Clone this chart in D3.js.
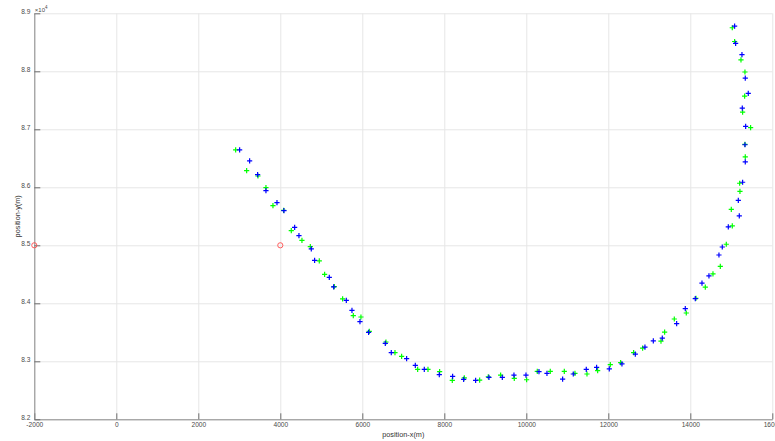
<!DOCTYPE html>
<html>
<head>
<meta charset="utf-8">
<script src="https://cdn.jsdelivr.net/npm/d3@7"></script>
<style>
  body { margin: 0; background: #fff; }
  text { font-family: "Liberation Sans", Arial, sans-serif; }
</style>
</head>
<body>
<svg width="775" height="441"></svg>
<script>
// trajectory points (x in m, y in m)
var blueX = [3008, 3252, 3447, 3650, 3919, 4089, 4350, 4455, 4756, 4837, 5195, 5301, 5610, 5748, 5943, 6154,
    6561, 6707, 7081, 7293, 7512, 7878, 8203, 8472, 8764, 9089, 9415, 9699, 9992, 10309, 10504, 10886, 11146,
    11463, 11715, 12024, 12333, 12659, 12894, 13098, 13317, 13667, 13878, 14122, 14285, 14455, 14699, 14780,
    14927, 15195, 15171, 15276, 15341, 15333, 15350, 15268, 15414, 15341, 15260, 15106, 15081];
var blueY = [86644, 86454, 86218, 85943, 85736, 85598, 85310, 85167, 84937, 84741, 84448, 84282, 84052, 83879,
    83684, 83500, 83310, 83150, 83046, 82931, 82862, 82770, 82741, 82690, 82671, 82723, 82723, 82763, 82763,
    82821, 82792, 82694, 82781, 82862, 82896, 82868, 82954, 83122, 83243, 83353, 83399, 83648, 83908, 84081,
    84347, 84474, 84833, 84971, 85318, 85509, 85775, 86087, 86439, 86734, 87052, 87364, 87619, 87884, 88289,
    88480, 88780];

var greenX = [2911, 3179, 3455, 3650, 3821, 4081, 4268, 4528, 4732, 4951, 5081, 5317, 5520, 5780, 5967, 6171,
    6577, 6797, 6959, 7350, 7602, 7886, 8195, 8488, 8862, 9073, 9374, 9707, 10008, 10268, 10585, 10927, 11187,
    11480, 11740, 12049, 12301, 12618, 12837, 13285, 13374, 13610, 13902, 14138, 14366, 14553, 14732, 14878,
    15024, 15000, 15211, 15203, 15341, 15333, 15471, 15276, 15325, 15333, 15236, 15081, 15024];
var greenY = [86644, 86287, 86195, 85994, 85684, 85603, 85253, 85086, 84977, 84730, 84500, 84287, 84075, 83787,
    83764, 83517, 83333, 83150, 83086, 82862, 82862, 82822, 82672, 82713, 82677, 82734, 82763, 82706, 82682,
    82827, 82827, 82827, 82792, 82781, 82838, 82943, 82977, 83151, 83226, 83347, 83503, 83729, 83833, 84087,
    84278, 84509, 84636, 85018, 85335, 85619, 85931, 86070, 86526, 86740, 87029, 87295, 87572, 87988, 88197,
    88514, 88751];

// the two red circles
var redX = [4000, -2000];
var redY = [85000, 85000];

var xTicks = [-2000, 0, 2000, 4000, 6000, 8000, 10000, 12000, 14000, 16000];
var yTicks = [82000, 83000, 84000, 85000, 86000, 87000, 88000, 89000];

var svg = d3.select("svg"),
    mLeft = 34.3,
    mRight = 772.3,
    mTop = 13.3,
    mBottom = 419.3;

var x = d3.scaleLinear().domain([-2000, 16000]).range([mLeft, mRight]);
var y = d3.scaleLinear().domain([82000, 89000]).range([mBottom, mTop]);

// grid
svg.append("g")
    .attr("transform", "translate(0," + mBottom + ")")
    .call(d3.axisBottom(x).tickValues(xTicks).tickSize(-(mBottom - mTop)).tickFormat(""))
    .call(g => g.select(".domain").remove())
    .selectAll("line").attr("stroke", "#e6e6e6");

svg.append("g")
    .attr("transform", "translate(" + mLeft + ",0)")
    .call(d3.axisLeft(y).tickValues(yTicks).tickSize(-(mRight - mLeft)).tickFormat(""))
    .call(g => g.select(".domain").remove())
    .selectAll("line").attr("stroke", "#e6e6e6");

// axes, ticks point inward like matlab
var xAxis = svg.append("g")
    .attr("transform", "translate(0," + mBottom + ")")
    .call(d3.axisBottom(x).tickValues(xTicks).tickSizeInner(-6).tickSizeOuter(0).tickPadding(3)
        .tickFormat(function(d) { return String(d); }));

var yAxis = svg.append("g")
    .attr("transform", "translate(" + mLeft + ",0)")
    .call(d3.axisLeft(y).tickValues(yTicks).tickSizeInner(-6).tickSizeOuter(0).tickPadding(4)
        .tickFormat(function(d) { return (d / 1e4).toFixed(1); }));

[xAxis, yAxis].forEach(function(a) {
    a.select(".domain").attr("stroke", "#8a8a8a");
    a.selectAll(".tick line").attr("stroke", "#6e6e6e");
    a.selectAll("text").attr("fill", "#4a4a4a").style("font-size", "6.6px").attr("font-family", null);
});
yAxis.selectAll("text").attr("dy", "0.1em");

// exponent label
var expo = svg.append("text")
    .attr("x", mLeft + 0.5)
    .attr("y", mTop - 1.5)
    .attr("fill", "#4a4a4a")
    .style("font-size", "6px");
expo.append("tspan").text("×10");
expo.append("tspan").attr("dy", -3).style("font-size", "4.5px").text("4");

svg.append("text")
    .attr("x", (mLeft + mRight) / 2)
    .attr("y", 437)
    .attr("text-anchor", "middle")
    .attr("fill", "#333")
    .style("font-size", "7.3px")
    .text("position-x(m)");

svg.append("text")
    .attr("transform", "translate(19.5," + (mTop + mBottom) / 2 + ") rotate(-90)")
    .attr("text-anchor", "middle")
    .attr("fill", "#333")
    .style("font-size", "7.3px")
    .text("position-y(m)");

var plus = "M-2.6,0H2.6M0,-2.6V2.6";

svg.selectAll(".green")
    .data(d3.range(greenX.length))
    .enter()
    .append("path")
    .attr("class", "green")
    .attr("d", plus)
    .attr("transform", function(i) { return "translate(" + x(greenX[i]) + "," + y(greenY[i]) + ")"; })
    .attr("stroke", "#00ff00")
    .attr("stroke-width", 1.2)
    .attr("fill", "none");

svg.selectAll(".blue")
    .data(d3.range(blueX.length))
    .enter()
    .append("path")
    .attr("class", "blue")
    .attr("d", plus)
    .attr("transform", function(i) { return "translate(" + x(blueX[i]) + "," + y(blueY[i]) + ")"; })
    .attr("stroke", "#0000ff")
    .attr("stroke-width", 1.2)
    .attr("fill", "none");

svg.selectAll(".red")
    .data(d3.range(redX.length))
    .enter()
    .append("circle")
    .attr("class", "red")
    .attr("cx", function(i) { return x(redX[i]); })
    .attr("cy", function(i) { return y(redY[i]); })
    .attr("r", 2.6)
    .attr("stroke", "#ff4d4d")
    .attr("stroke-width", 0.9)
    .attr("fill", "none");
</script>
</body>
</html>
